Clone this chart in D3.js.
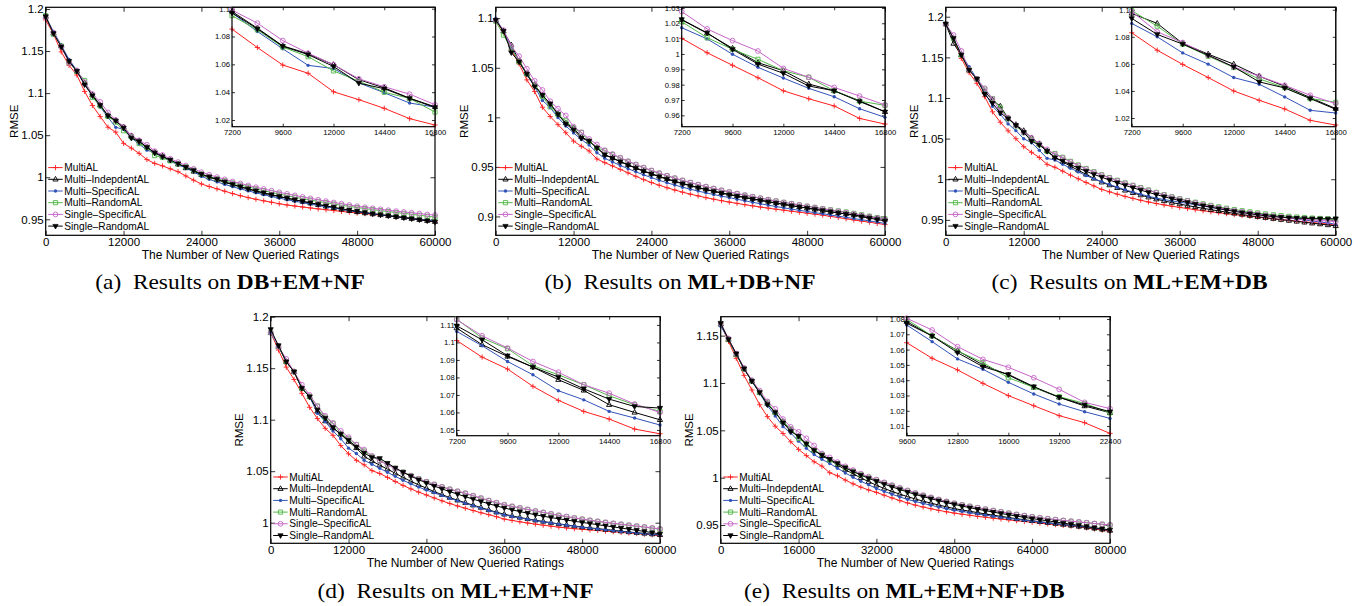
<!DOCTYPE html>
<html>
<head>
<meta charset="utf-8">
<script src="https://cdn.jsdelivr.net/npm/d3@7"></script>
<style>
body{margin:0;background:#fff;}
svg{display:block;font-family:"Liberation Sans",Arial,sans-serif;}
</style>
</head>
<body>
<svg id="chart" width="1369" height="606"></svg>
<script>
//legend names, one per series
let seriesNames = ["MultiAL", "Multi\u2013IndepdentAL", "Multi\u2013SpecificAL", "Multi\u2013RandomAL", "Single\u2013SpecificAL", "Single\u2013RandomAL"];

//tick values
let xTicks60k = [0, 12000, 24000, 36000, 48000, 60000];
let xTicks80k = [0, 16000, 32000, 48000, 64000, 80000];
let insetXTicks60k = [7200, 9600, 12000, 14400, 16800];
let insetXTicks80k = [9600, 12800, 16000, 19200, 22400];
let yTicksA = [0.95, 1, 1.05, 1.1, 1.15, 1.2];
let yTicksB = [0.9, 0.95, 1, 1.05, 1.1];
let yTicksC = [0.95, 1, 1.05, 1.1, 1.15, 1.2];
let yTicksD = [1, 1.05, 1.1, 1.15, 1.2];
let yTicksE = [0.95, 1, 1.05, 1.1, 1.15];
let insetTicksA = [1.02, 1.04, 1.06, 1.08, 1.1];
let insetTicksB = [0.96, 0.97, 0.98, 0.99, 1, 1.01, 1.02, 1.03];
let insetTicksC = [1.02, 1.04, 1.06, 1.08, 1.1];
let insetTicksD = [1.05, 1.06, 1.07, 1.08, 1.09, 1.1, 1.11];
let insetTicksE = [1.01, 1.02, 1.03, 1.04, 1.05, 1.06, 1.07, 1.08];

//(a) DB+EM+NF, one value every 1200 ratings
let aMultiAL = [1.187, 1.170, 1.149, 1.133, 1.1215, 1.102, 1.0853, 1.0721, 1.0595, 1.0536, 1.0403, 1.0346, 1.0284, 1.021, 1.0164, 1.0135, 1.0100, 1.0066, 1.0015, 0.9965, 0.9920, 0.9890, 0.9862, 0.9834, 0.9806, 0.9781, 0.9758, 0.9738, 0.9720, 0.9703, 0.9685, 0.9670, 0.9658, 0.9646, 0.9635, 0.9624, 0.9614, 0.9604, 0.9594, 0.9585, 0.9575, 0.9567, 0.9558, 0.9549, 0.9540, 0.9530, 0.9520, 0.9510, 0.9498, 0.9485, 0.9468];
let aIndep = [1.191, 1.171, 1.156, 1.138, 1.126, 1.112, 1.098, 1.086, 1.0733, 1.0676, 1.0598, 1.049, 1.0431, 1.0357, 1.0295, 1.0250, 1.0200, 1.0155, 1.0110, 1.0070, 1.0030, 1.0000, 0.9970, 0.9940, 0.9912, 0.9885, 0.9860, 0.9835, 0.9810, 0.9790, 0.9770, 0.9750, 0.9730, 0.9711, 0.9692, 0.9673, 0.9655, 0.9637, 0.9620, 0.9603, 0.9588, 0.9575, 0.9563, 0.9552, 0.9541, 0.9530, 0.9519, 0.9508, 0.9496, 0.9484, 0.9472];
let aSpec = [1.191, 1.173, 1.157, 1.140, 1.127, 1.110, 1.097, 1.0836, 1.0712, 1.0593, 1.057, 1.0467, 1.0396, 1.0322, 1.0293, 1.0240, 1.0190, 1.0150, 1.0110, 1.0065, 1.0010, 0.9975, 0.9945, 0.9915, 0.9888, 0.9862, 0.9838, 0.9815, 0.9793, 0.9772, 0.9752, 0.9733, 0.9715, 0.9698, 0.9681, 0.9665, 0.9649, 0.9634, 0.9619, 0.9605, 0.9591, 0.9578, 0.9566, 0.9554, 0.9543, 0.9532, 0.9521, 0.9510, 0.9499, 0.9488, 0.9476];
let aRand = [1.192, 1.170, 1.156, 1.136, 1.126, 1.115, 1.095, 1.0848, 1.0724, 1.0655, 1.0553, 1.0479, 1.040, 1.0355, 1.0257, 1.0235, 1.0195, 1.0160, 1.0125, 1.0085, 1.0040, 1.0010, 0.9983, 0.9957, 0.9932, 0.9908, 0.9885, 0.9862, 0.9840, 0.9820, 0.9800, 0.9781, 0.9763, 0.9746, 0.9729, 0.9713, 0.9697, 0.9682, 0.9667, 0.9653, 0.9640, 0.9627, 0.9615, 0.9603, 0.9592, 0.9581, 0.9570, 0.9559, 0.9548, 0.9537, 0.9525];
let aSsp = [1.190, 1.172, 1.155, 1.136, 1.127, 1.113, 1.099, 1.0896, 1.0771, 1.068, 1.0598, 1.0496, 1.0439, 1.0386, 1.031, 1.0265, 1.0220, 1.0180, 1.0140, 1.0100, 1.0060, 1.0030, 1.0002, 0.9975, 0.9950, 0.9926, 0.9903, 0.9881, 0.9860, 0.9840, 0.9821, 0.9802, 0.9784, 0.9766, 0.9749, 0.9732, 0.9716, 0.9700, 0.9685, 0.9670, 0.9656, 0.9643, 0.9631, 0.9619, 0.9608, 0.9597, 0.9587, 0.9577, 0.9567, 0.9558, 0.9550];
let aSrand = [1.191, 1.171, 1.155, 1.138, 1.126, 1.110, 1.097, 1.0855, 1.073, 1.067, 1.0585, 1.0465, 1.0425, 1.0355, 1.029, 1.0245, 1.0205, 1.0160, 1.0120, 1.0080, 1.0035, 1.0005, 0.9975, 0.9945, 0.9915, 0.9888, 0.9862, 0.9838, 0.9815, 0.9793, 0.9772, 0.9752, 0.9733, 0.9714, 0.9696, 0.9678, 0.9660, 0.9643, 0.9626, 0.9610, 0.9595, 0.9581, 0.9568, 0.9556, 0.9544, 0.9532, 0.9520, 0.9508, 0.9496, 0.9484, 0.9470];

//(b) ML+DB+NF
let bMultiAL = [1.098, 1.086, 1.068, 1.054, 1.0378, 1.026, 1.0102, 1.0008, 0.9926, 0.9845, 0.976, 0.9708, 0.9661, 0.958, 0.9543, 0.9510, 0.9475, 0.9440, 0.9405, 0.9372, 0.9342, 0.9315, 0.9290, 0.9267, 0.9245, 0.9225, 0.9207, 0.9190, 0.9174, 0.9159, 0.9145, 0.9132, 0.9119, 0.9107, 0.9095, 0.9084, 0.9073, 0.9063, 0.9053, 0.9043, 0.9033, 0.9023, 0.9013, 0.9001, 0.8989, 0.8977, 0.8965, 0.8953, 0.8942, 0.8930, 0.8918];
let bIndep = [1.098, 1.087, 1.073, 1.057, 1.044, 1.033, 1.0222, 1.0135, 1.0037, 0.9943, 0.9891, 0.9804, 0.976, 0.9695, 0.9623, 0.9590, 0.9555, 0.9522, 0.9490, 0.9460, 0.9432, 0.9405, 0.9380, 0.9356, 0.9334, 0.9313, 0.9293, 0.9274, 0.9256, 0.9239, 0.9223, 0.9208, 0.9193, 0.9179, 0.9165, 0.9151, 0.9137, 0.9123, 0.9110, 0.9097, 0.9084, 0.9072, 0.9060, 0.9048, 0.9037, 0.9026, 0.9015, 0.9004, 0.8993, 0.8982, 0.8970];
let bSpec = [1.100, 1.087, 1.070, 1.056, 1.043, 1.031, 1.0171, 1.0098, 0.9998, 0.9913, 0.9843, 0.9776, 0.9721, 0.9643, 0.9587, 0.9550, 0.9515, 0.9482, 0.9450, 0.9420, 0.9392, 0.9365, 0.9340, 0.9317, 0.9295, 0.9275, 0.9256, 0.9238, 0.9221, 0.9205, 0.9190, 0.9174, 0.9158, 0.9143, 0.9128, 0.9114, 0.9100, 0.9087, 0.9074, 0.9062, 0.9050, 0.9038, 0.9027, 0.9015, 0.9003, 0.8991, 0.8979, 0.8967, 0.8955, 0.8943, 0.8930];
let bRand = [1.097, 1.083, 1.0697, 1.056, 1.0438, 1.0328, 1.021, 1.0106, 1.003, 0.9965, 0.9891, 0.9848, 0.976, 0.9693, 0.9665, 0.9625, 0.9590, 0.9555, 0.9522, 0.9491, 0.9462, 0.9435, 0.9410, 0.9386, 0.9363, 0.9341, 0.9320, 0.9300, 0.9281, 0.9263, 0.9246, 0.9230, 0.9214, 0.9199, 0.9184, 0.9170, 0.9156, 0.9142, 0.9129, 0.9116, 0.9103, 0.9091, 0.9079, 0.9067, 0.9056, 0.9045, 0.9031, 0.9017, 0.9003, 0.8989, 0.8975];
let bSsp = [1.098, 1.088, 1.072, 1.0617, 1.049, 1.0368, 1.0276, 1.0163, 1.0087, 1.0019, 0.9906, 0.9848, 0.9782, 0.9726, 0.9668, 0.9630, 0.9593, 0.9558, 0.9525, 0.9494, 0.9465, 0.9438, 0.9412, 0.9388, 0.9365, 0.9343, 0.9322, 0.9302, 0.9283, 0.9265, 0.9248, 0.9232, 0.9216, 0.9200, 0.9185, 0.9170, 0.9156, 0.9142, 0.9129, 0.9116, 0.9103, 0.9090, 0.9077, 0.9064, 0.9052, 0.9040, 0.9026, 0.9012, 0.8998, 0.8984, 0.8970];
let bSrand = [1.098, 1.087, 1.0653, 1.056, 1.0438, 1.031, 1.0225, 1.0137, 1.003, 0.9934, 0.9874, 0.9791, 0.976, 0.969, 0.9623, 0.9588, 0.9552, 0.9518, 0.9486, 0.9456, 0.9428, 0.9401, 0.9376, 0.9352, 0.9330, 0.9309, 0.9289, 0.9270, 0.9252, 0.9235, 0.9219, 0.9204, 0.9189, 0.9175, 0.9161, 0.9147, 0.9134, 0.9121, 0.9108, 0.9096, 0.9084, 0.9072, 0.9060, 0.9048, 0.9036, 0.9024, 0.9011, 0.8997, 0.8983, 0.8969, 0.8955];

//(c) ML+EM+DB
let cMultiAL = [1.191, 1.173, 1.1488, 1.1311, 1.118, 1.1016, 1.083, 1.0701, 1.0596, 1.0499, 1.040, 1.0331, 1.0267, 1.0183, 1.0148, 1.0100, 1.0050, 1.0005, 0.9960, 0.9917, 0.9875, 0.9845, 0.9816, 0.9789, 0.9764, 0.9741, 0.9720, 0.9701, 0.9684, 0.9668, 0.9653, 0.9639, 0.9625, 0.9612, 0.9600, 0.9588, 0.9576, 0.9565, 0.9554, 0.9543, 0.9533, 0.9523, 0.9513, 0.9503, 0.9494, 0.9485, 0.9476, 0.9467, 0.9458, 0.9449, 0.9435];
let cIndep = [1.191, 1.167, 1.153, 1.1344, 1.1234, 1.108, 1.0973, 1.0899, 1.0751, 1.0672, 1.0598, 1.0509, 1.0435, 1.0351, 1.027, 1.0215, 1.0160, 1.0110, 1.0060, 1.0010, 0.9963, 0.9928, 0.9895, 0.9863, 0.9833, 0.9805, 0.9779, 0.9755, 0.9733, 0.9713, 0.9694, 0.9676, 0.9659, 0.9642, 0.9626, 0.9610, 0.9595, 0.9580, 0.9566, 0.9552, 0.9539, 0.9527, 0.9515, 0.9503, 0.9492, 0.9481, 0.9470, 0.9459, 0.9448, 0.9437, 0.9426];
let cSpec = [1.191, 1.1734, 1.153, 1.1385, 1.1234, 1.107, 1.0899, 1.080, 1.0681, 1.0598, 1.0499, 1.045, 1.0356, 1.0257, 1.0237, 1.0185, 1.0135, 1.0090, 1.0045, 1.0005, 0.9970, 0.9935, 0.9902, 0.9871, 0.9842, 0.9815, 0.9790, 0.9768, 0.9750, 0.9734, 0.9718, 0.9702, 0.9686, 0.9670, 0.9655, 0.9640, 0.9625, 0.9611, 0.9597, 0.9584, 0.9571, 0.9558, 0.9546, 0.9534, 0.9522, 0.9510, 0.9498, 0.9486, 0.9474, 0.9462, 0.9445];
let cRand = [1.191, 1.1734, 1.153, 1.1344, 1.1234, 1.111, 1.0993, 1.0879, 1.0746, 1.0657, 1.0573, 1.0489, 1.0425, 1.0344, 1.0316, 1.0270, 1.0220, 1.0175, 1.0132, 1.0092, 1.0055, 1.0020, 0.9987, 0.9955, 0.9925, 0.9897, 0.9868, 0.9838, 0.9810, 0.9784, 0.9760, 0.9738, 0.9717, 0.9697, 0.9678, 0.9660, 0.9643, 0.9627, 0.9612, 0.9598, 0.9585, 0.9573, 0.9562, 0.9552, 0.9543, 0.9535, 0.9528, 0.9522, 0.9517, 0.9512, 0.9508];
let cSsp = [1.191, 1.1775, 1.158, 1.1344, 1.1234, 1.112, 1.0987, 1.0837, 1.0758, 1.0664, 1.0578, 1.0509, 1.0442, 1.0368, 1.0307, 1.0262, 1.0213, 1.0168, 1.0126, 1.0087, 1.0050, 1.0015, 0.9982, 0.9950, 0.9920, 0.9891, 0.9863, 0.9834, 0.9806, 0.9780, 0.9755, 0.9732, 0.9710, 0.9689, 0.9669, 0.9650, 0.9632, 0.9615, 0.9599, 0.9584, 0.9570, 0.9557, 0.9545, 0.9534, 0.9524, 0.9515, 0.9507, 0.9500, 0.9493, 0.9486, 0.9480];
let cSrand = [1.191, 1.1734, 1.153, 1.1344, 1.1234, 1.1045, 1.0936, 1.0818, 1.0746, 1.0664, 1.0578, 1.0467, 1.0422, 1.0344, 1.0264, 1.0225, 1.0180, 1.0138, 1.0098, 1.0060, 1.0025, 0.9990, 0.9957, 0.9925, 0.9895, 0.9866, 0.9838, 0.9811, 0.9785, 0.9760, 0.9737, 0.9715, 0.9694, 0.9674, 0.9655, 0.9637, 0.9620, 0.9604, 0.9589, 0.9575, 0.9562, 0.9550, 0.9540, 0.9533, 0.9527, 0.9522, 0.9518, 0.9515, 0.9513, 0.9512, 0.9515];

//(d) ML+EM+NF
let dMultiAL = [1.1845, 1.1677, 1.151, 1.139, 1.1256, 1.112, 1.1011, 1.0916, 1.0848, 1.0749, 1.0669, 1.0606, 1.0562, 1.0505, 1.0478, 1.0440, 1.0400, 1.0362, 1.0328, 1.0297, 1.0269, 1.0240, 1.0212, 1.0186, 1.0162, 1.0140, 1.0118, 1.0097, 1.0078, 1.0058, 1.0035, 1.0022, 1.0009, 0.9997, 0.9986, 0.9976, 0.9966, 0.9957, 0.9949, 0.9942, 0.9936, 0.9930, 0.9924, 0.9918, 0.9912, 0.9906, 0.9900, 0.9894, 0.9888, 0.9882, 0.9870];
let dIndep = [1.1845, 1.171, 1.1563, 1.1466, 1.1305, 1.1223, 1.1082, 1.0987, 1.092, 1.0859, 1.0787, 1.0726, 1.0644, 1.060, 1.0558, 1.0520, 1.0480, 1.0440, 1.0402, 1.0368, 1.0335, 1.0302, 1.0272, 1.0244, 1.0218, 1.0194, 1.0170, 1.0147, 1.0124, 1.0102, 1.0082, 1.0066, 1.0051, 1.0037, 1.0024, 1.0012, 1.0000, 0.9989, 0.9978, 0.9968, 0.9958, 0.9950, 0.9942, 0.9934, 0.9926, 0.9918, 0.9910, 0.9903, 0.9896, 0.9889, 0.9882];
let dSpec = [1.1845, 1.171, 1.1563, 1.1466, 1.1305, 1.1223, 1.1063, 1.0981, 1.0891, 1.0815, 1.0724, 1.0672, 1.0606, 1.0568, 1.0528, 1.0490, 1.0450, 1.0412, 1.0377, 1.0346, 1.0317, 1.0290, 1.0263, 1.0237, 1.0212, 1.0188, 1.0164, 1.0141, 1.0118, 1.0096, 1.0075, 1.0060, 1.0046, 1.0033, 1.0020, 1.0008, 0.9997, 0.9986, 0.9975, 0.9965, 0.9955, 0.9947, 0.9939, 0.9931, 0.9923, 0.9915, 0.9907, 0.9900, 0.9893, 0.9886, 0.9880];
let dRand = [1.1845, 1.171, 1.1563, 1.1466, 1.1305, 1.1223, 1.1133, 1.1025, 1.0964, 1.0867, 1.0815, 1.0758, 1.0695, 1.0644, 1.0606, 1.0565, 1.0527, 1.0492, 1.0458, 1.0427, 1.0398, 1.0372, 1.0347, 1.0324, 1.0304, 1.0285, 1.0260, 1.0237, 1.0214, 1.0192, 1.0172, 1.0157, 1.0142, 1.0127, 1.0112, 1.0098, 1.0084, 1.0070, 1.0057, 1.0045, 1.0033, 1.0022, 1.0012, 1.0002, 0.9992, 0.9983, 0.9974, 0.9965, 0.9957, 0.9946, 0.9936];
let dSsp = [1.1845, 1.171, 1.159, 1.1466, 1.134, 1.124, 1.113, 1.1038, 1.0968, 1.0891, 1.083, 1.0758, 1.071, 1.0648, 1.060, 1.0562, 1.0525, 1.0490, 1.0457, 1.0426, 1.0398, 1.0372, 1.0348, 1.0326, 1.0306, 1.0287, 1.0263, 1.0240, 1.0217, 1.0195, 1.0175, 1.0160, 1.0145, 1.0130, 1.0115, 1.0101, 1.0087, 1.0073, 1.0060, 1.0047, 1.0035, 1.0024, 1.0014, 1.0004, 0.9995, 0.9986, 0.9977, 0.9968, 0.9959, 0.9950, 0.9940];
let dSrand = [1.1877, 1.172, 1.1563, 1.1466, 1.1305, 1.1223, 1.1095, 1.1015, 1.0924, 1.0859, 1.0802, 1.0735, 1.0676, 1.0634, 1.0625, 1.0578, 1.0532, 1.0490, 1.0452, 1.0418, 1.0386, 1.0356, 1.0328, 1.0302, 1.0277, 1.0253, 1.0229, 1.0206, 1.0184, 1.0163, 1.0143, 1.0125, 1.0108, 1.0092, 1.0077, 1.0063, 1.0050, 1.0038, 1.0026, 1.0014, 1.0003, 0.9992, 0.9981, 0.9970, 0.9959, 0.9948, 0.9937, 0.9926, 0.9915, 0.9904, 0.9890];

//(e) ML+EM+NF+DB, one value every 1600 ratings
let eMultiAL = [1.162, 1.144, 1.126, 1.108, 1.0926, 1.077, 1.0645, 1.0543, 1.0467, 1.0379, 1.0299, 1.0233, 1.0168, 1.0122, 1.0052, 1.0020, 0.9975, 0.9935, 0.9900, 0.9870, 0.9845, 0.9815, 0.9786, 0.9758, 0.9733, 0.9710, 0.9690, 0.9672, 0.9655, 0.9640, 0.9626, 0.9614, 0.9603, 0.9592, 0.9582, 0.9572, 0.9563, 0.9554, 0.9545, 0.9537, 0.9528, 0.9520, 0.9512, 0.9504, 0.9496, 0.9488, 0.9480, 0.9469, 0.9458, 0.9446, 0.9432];
let eIndep = [1.162, 1.146, 1.130, 1.115, 1.102, 1.090, 1.0783, 1.0689, 1.0593, 1.050, 1.0434, 1.0353, 1.0288, 1.0231, 1.0187, 1.0135, 1.0085, 1.0040, 0.9998, 0.9958, 0.9920, 0.9886, 0.9855, 0.9826, 0.9800, 0.9775, 0.9752, 0.9731, 0.9711, 0.9692, 0.9674, 0.9659, 0.9645, 0.9631, 0.9617, 0.9604, 0.9591, 0.9579, 0.9567, 0.9556, 0.9545, 0.9535, 0.9525, 0.9515, 0.9505, 0.9495, 0.9485, 0.9475, 0.9465, 0.9454, 0.9442];
let eSpec = [1.160, 1.146, 1.130, 1.115, 1.102, 1.089, 1.0761, 1.0652, 1.0539, 1.0471, 1.0386, 1.031, 1.0244, 1.0194, 1.015, 1.0100, 1.0050, 1.0005, 0.9963, 0.9924, 0.9887, 0.9855, 0.9825, 0.9797, 0.9771, 0.9748, 0.9728, 0.9709, 0.9690, 0.9673, 0.9657, 0.9644, 0.9631, 0.9618, 0.9605, 0.9593, 0.9581, 0.9570, 0.9560, 0.9550, 0.9541, 0.9532, 0.9523, 0.9514, 0.9505, 0.9496, 0.9487, 0.9478, 0.9468, 0.9457, 0.9446];
let eRand = [1.163, 1.146, 1.130, 1.115, 1.102, 1.090, 1.0798, 1.0689, 1.0591, 1.0515, 1.0416, 1.0353, 1.0292, 1.0248, 1.0187, 1.0150, 1.0108, 1.0070, 1.0036, 1.0004, 0.9975, 0.9946, 0.9917, 0.9888, 0.9861, 0.9834, 0.9811, 0.9789, 0.9768, 0.9748, 0.9728, 0.9712, 0.9697, 0.9682, 0.9667, 0.9653, 0.9639, 0.9625, 0.9611, 0.9598, 0.9586, 0.9575, 0.9565, 0.9556, 0.9547, 0.9539, 0.9531, 0.9523, 0.9515, 0.9507, 0.9499];
let eSsp = [1.163, 1.147, 1.131, 1.116, 1.103, 1.092, 1.0805, 1.0728, 1.0619, 1.0536, 1.0484, 1.0416, 1.034, 1.0255, 1.0214, 1.0165, 1.0120, 1.0080, 1.0043, 1.0010, 0.9980, 0.9951, 0.9922, 0.9894, 0.9866, 0.9840, 0.9816, 0.9793, 0.9771, 0.9750, 0.9731, 0.9714, 0.9698, 0.9683, 0.9668, 0.9654, 0.9640, 0.9626, 0.9613, 0.9600, 0.9588, 0.9577, 0.9567, 0.9558, 0.9549, 0.9541, 0.9533, 0.9525, 0.9517, 0.9509, 0.9501];
let eSrand = [1.163, 1.146, 1.131, 1.115, 1.102, 1.090, 1.0772, 1.0689, 1.058, 1.0488, 1.0438, 1.0358, 1.0288, 1.0238, 1.0194, 1.0150, 1.0105, 1.0064, 1.0027, 0.9993, 0.9962, 0.9932, 0.9903, 0.9875, 0.9848, 0.9823, 0.9800, 0.9778, 0.9757, 0.9737, 0.9718, 0.9700, 0.9683, 0.9667, 0.9652, 0.9637, 0.9622, 0.9608, 0.9594, 0.9581, 0.9568, 0.9556, 0.9544, 0.9532, 0.9520, 0.9508, 0.9496, 0.9484, 0.9472, 0.9460, 0.9448];

//styles for each series (same order as names)
let seriesColors = ["#ff1f1f", "#000000", "#3153b8", "#52b848", "#c666c8", "#000000"];
let seriesMarkers = ["plus", "triUp", "dot", "square", "circle", "triDown"];

//panel layout: box = [left, top, right, bottom]
let panels = [
    {tag: "(a)", name: "DB+EM+NF", series: [aMultiAL, aIndep, aSpec, aRand, aSsp, aSrand], step: 1200,
     xTicks: xTicks60k, yTicks: yTicksA, yDomain: [0.931, 1.202], box: [45.7, 7.3, 435, 235.3],
     inset: {box: [232, 7.3, 435, 126.7], yDomain: [1.0152, 1.101], yTicks: insetTicksA, xTicks: insetXTicks60k},
     caption: [230, 289]},
    {tag: "(b)", name: "ML+DB+NF", series: [bMultiAL, bIndep, bSpec, bRand, bSsp, bSrand], step: 1200,
     xTicks: xTicks60k, yTicks: yTicksB, yDomain: [0.881, 1.111], box: [495.7, 7.3, 885, 235.3],
     inset: {box: [681.7, 7.3, 885, 126.7], yDomain: [0.9526, 1.0304], yTicks: insetTicksB, xTicks: insetXTicks60k},
     caption: [680, 289]},
    {tag: "(c)", name: "ML+EM+DB", series: [cMultiAL, cIndep, cSpec, cRand, cSsp, cSrand], step: 1200,
     xTicks: xTicks60k, yTicks: yTicksC, yDomain: [0.931, 1.2116], box: [945.7, 7.3, 1335.7, 235.3],
     inset: {box: [1131.7, 7.3, 1335.7, 126.7], yDomain: [1.0136, 1.1018], yTicks: insetTicksC, xTicks: insetXTicks60k},
     caption: [1129.5, 289]},
    {tag: "(d)", name: "ML+EM+NF", series: [dMultiAL, dIndep, dSpec, dRand, dSsp, dSrand], step: 1200,
     xTicks: xTicks60k, yTicks: yTicksD, yDomain: [0.98, 1.2], box: [270.7, 316.7, 660, 543.3],
     inset: {box: [456.7, 316.7, 660, 435.7], yDomain: [1.0467, 1.1147], yTicks: insetTicksD, xTicks: insetXTicks60k},
     caption: [455.5, 598]},
    {tag: "(e)", name: "ML+EM+NF+DB", series: [eMultiAL, eIndep, eSpec, eRand, eSsp, eSrand], step: 1600,
     xTicks: xTicks80k, yTicks: yTicksE, yDomain: [0.9307, 1.170], box: [720.7, 316.7, 1110, 543.3],
     inset: {box: [906.7, 316.7, 1110, 435.7], yDomain: [1.0037, 1.0815], yTicks: insetTicksE, xTicks: insetXTicks80k},
     caption: [904.3, 598]}
];

let svg = d3.select("#chart");

//marker drawing, centred on 0,0
function addMarker(sel, type, color){
    if (type === "plus"){
        sel.append("path").attr("d", "M-2.6,0H2.6M0,-2.6V2.6")
            .attr("stroke", color).attr("stroke-width", 0.9).attr("fill", "none");
    }
    else if (type === "triUp"){
        sel.append("path").attr("d", "M0,-2.9L2.6,1.7L-2.6,1.7Z")
            .attr("stroke", color).attr("stroke-width", 0.9).attr("fill", "none");
    }
    else if (type === "triDown"){
        sel.append("path").attr("d", "M0,2.9L2.6,-1.7L-2.6,-1.7Z")
            .attr("stroke", color).attr("stroke-width", 0.7).attr("fill", color);
    }
    else if (type === "dot"){
        sel.append("circle").attr("r", 1.7).attr("fill", color);
    }
    else if (type === "square"){
        sel.append("path").attr("d", "M-2.1,-2.1H2.1V2.1H-2.1Z")
            .attr("stroke", color).attr("stroke-width", 0.9).attr("fill", "none");
    }
    else{
        sel.append("circle").attr("r", 2.4)
            .attr("stroke", color).attr("stroke-width", 0.9).attr("fill", "none");
    }
}

//frame with inward ticks on all four sides
function drawFrame(g, x, y, box, xTicks, yTicks, tick, fontSize, padX, padY){
    let [x0, y0, x1, y1] = box;
    g.append("rect").attr("x", x0).attr("y", y0)
        .attr("width", x1 - x0).attr("height", y1 - y0)
        .attr("fill", "#fff");

    let cleanUp = function(a){
        a.select(".domain").remove();
        a.attr("font-family", null).attr("font-size", fontSize);
        a.selectAll("line").attr("stroke", "#000").attr("stroke-width", 0.8);
        a.selectAll("text").attr("fill", "#000");
    };
    g.append("g").attr("transform", "translate(0," + y1 + ")")
        .call(d3.axisBottom(x).tickValues(xTicks).tickSizeInner(-tick).tickSizeOuter(0).tickPadding(padX).tickFormat(d => String(d)))
        .call(cleanUp);
    g.append("g").attr("transform", "translate(0," + y0 + ")")
        .call(d3.axisTop(x).tickValues(xTicks).tickSizeInner(-tick).tickSizeOuter(0).tickFormat(""))
        .call(cleanUp);
    g.append("g").attr("transform", "translate(" + x0 + ",0)")
        .call(d3.axisLeft(y).tickValues(yTicks).tickSizeInner(-tick).tickSizeOuter(0).tickPadding(padY).tickFormat(d => String(d)))
        .call(cleanUp);
    g.append("g").attr("transform", "translate(" + x1 + ",0)")
        .call(d3.axisRight(y).tickValues(yTicks).tickSizeInner(-tick).tickSizeOuter(0).tickFormat(""))
        .call(cleanUp);
}

function drawBorder(g, box){
    g.append("rect").attr("x", box[0]).attr("y", box[1])
        .attr("width", box[2] - box[0]).attr("height", box[3] - box[1])
        .attr("fill", "none").attr("stroke", "#000").attr("stroke-width", 1.2);
}

//plot the series (only indices from..to)
function drawSeries(g, x, y, p, from, to){
    for (let s = 0; s < p.series.length; s++){
        let pts = [];
        for (let i = from; i <= to && i < p.series[s].length; i++){
            pts.push([i * p.step, p.series[s][i]]);
        }
        let line = d3.line().x(d => x(d[0])).y(d => y(d[1]));
        g.append("path").datum(pts)
            .attr("d", line)
            .attr("fill", "none")
            .attr("stroke", seriesColors[s])
            .attr("stroke-width", 1);
        g.append("g").selectAll("g")
            .data(pts)
            .enter()
            .append("g")
            .attr("transform", d => "translate(" + x(d[0]) + "," + y(d[1]) + ")")
            .each(function(){ addMarker(d3.select(this), seriesMarkers[s], seriesColors[s]); });
    }
}

panels.forEach(function(p){
    let g = svg.append("g");
    let [x0, y0, x1, y1] = p.box;
    let n = p.series[0].length - 1;

    let x = d3.scaleLinear().domain([0, n * p.step]).range([x0, x1]);
    let y = d3.scaleLinear().domain(p.yDomain).range([y1, y0]);

    drawFrame(g, x, y, p.box, p.xTicks, p.yTicks, 4.5, 11.5, 2.8, 2);
    drawSeries(g, x, y, p, 0, n);
    drawBorder(g, p.box);

    //legend (no box)
    let lg = g.append("g");
    for (let k = 0; k < seriesNames.length; k++){
        let ly = y0 + 160.3 + k * 11.7;
        lg.append("line").attr("x1", x0 + 2.5).attr("x2", x0 + 17)
            .attr("y1", ly).attr("y2", ly)
            .attr("stroke", seriesColors[k]).attr("stroke-width", 1);
        addMarker(lg.append("g").attr("transform", "translate(" + (x0 + 9.8) + "," + ly + ")"), seriesMarkers[k], seriesColors[k]);
        lg.append("text").attr("x", x0 + 18.6).attr("y", ly).attr("dy", "0.36em")
            .attr("font-size", 10.2).text(seriesNames[k]);
    }

    //inset zoom on 6..14
    let ib = p.inset.box;
    let ix = d3.scaleLinear().domain([6 * p.step, 14 * p.step]).range([ib[0], ib[2]]);
    let iy = d3.scaleLinear().domain(p.inset.yDomain).range([ib[3], ib[1]]);
    let ig = g.append("g");
    drawFrame(ig, ix, iy, ib, p.inset.xTicks, p.inset.yTicks, 3, 7.7, 3.3, 2);
    drawSeries(ig, ix, iy, p, 6, 14);
    drawBorder(ig, ib);

    //axis titles
    g.append("text").attr("x", (x0 + x1) / 2).attr("y", y1 + 23.6)
        .attr("text-anchor", "middle").attr("font-size", 12)
        .text("The Number of New Queried Ratings");
    g.append("text")
        .attr("transform", "translate(" + (x0 - 27.4) + "," + ((y0 + y1) / 2) + ") rotate(-90)")
        .attr("text-anchor", "middle").attr("font-size", 11.5)
        .text("RMSE");

    //caption
    let cap = g.append("text")
        .attr("transform", "translate(" + p.caption[0] + "," + p.caption[1] + ") scale(1.17,1)")
        .attr("text-anchor", "middle")
        .attr("font-family", "'Liberation Serif','Times New Roman',serif")
        .attr("font-size", 20);
    cap.append("tspan").text(p.tag + "\u2002Results on ");
    cap.append("tspan").attr("font-weight", "bold").text(p.name);
});
</script>
</body>
</html>
